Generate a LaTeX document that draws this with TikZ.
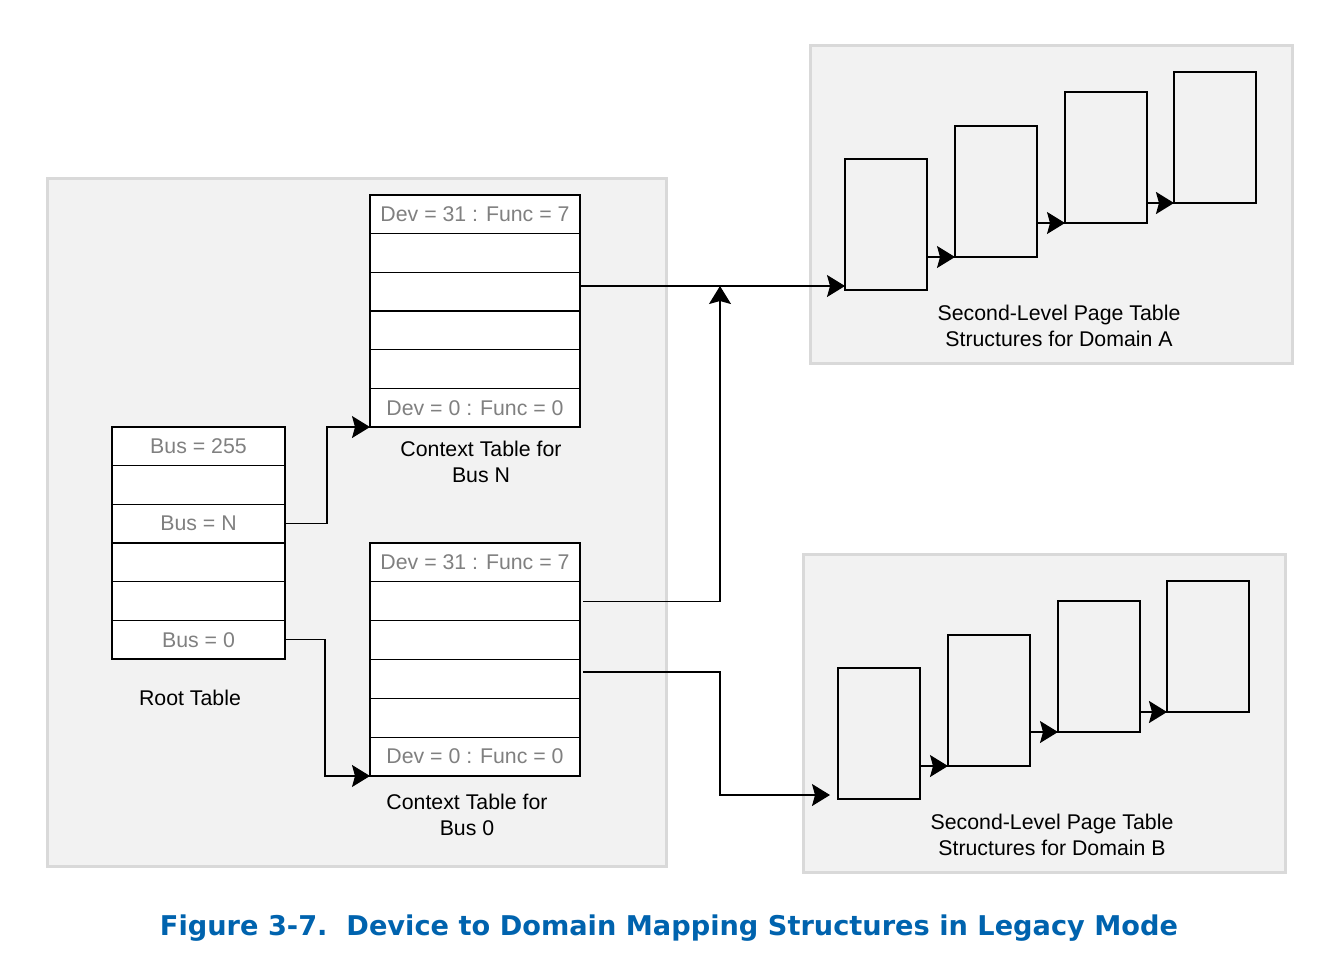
\documentclass[tikz,border=0pt]{standalone}
\usepackage{fontspec}
\setmainfont{Liberation Sans}
\newfontfamily\capfont{DejaVu Sans}
\usetikzlibrary{arrows.meta,positioning}
\definecolor{panelgray}{HTML}{F2F2F2}
\definecolor{panelrule}{HTML}{D9D9D9}
\definecolor{cellgray}{HTML}{808080}
\definecolor{capblue}{RGB}{0,99,174}

\begin{document}
\begin{tikzpicture}[x=1pt, y=-1pt, font=\fontsize{21.3}{26}\selectfont,
    >={Stealth[length=18pt, width=22pt, inset=3pt]},
    panel/.style={draw=panelrule, fill=panelgray, line width=3pt, anchor=north west, inner sep=0pt, outer sep=0pt},
    cell/.style={draw, fill=white, line width=1.1pt, anchor=north west, text=cellgray, inner sep=0pt, outer sep=0pt},
    page/.style={draw, line width=1.1pt, anchor=north west, minimum width=82pt, minimum height=131pt, inner sep=0pt, outer sep=0pt},
    link/.style={->, line width=1.2pt},
    caption/.style={align=center}]
    \useasboundingbox (0,0) rectangle (1330,962);

    % Panels
    \node[panel, minimum width=619pt, minimum height=688pt] (host) at (47,178) {};
    \node[panel, minimum width=482pt, minimum height=318pt] (domA) at (810,45) {};
    \node[panel, minimum width=482pt, minimum height=318pt] (domB) at (803,554) {};

    % Tables
    \foreach \i/\txt in {1/{Bus = 255},2/{},3/{Bus = N},4/{},5/{},6/{Bus = 0}}
        \node[cell, minimum width=173pt, minimum height=38.67pt] (root-\i) at (112,{427+(\i-1)*38.67}) {\txt};
    \foreach \i/\txt in {1/{Dev = 31 : Func = 7},2/{},3/{},4/{},5/{},6/{Dev = 0 : Func = 0}}
        \node[cell, minimum width=210pt, minimum height=38.67pt] (ctxN-\i) at (370,{195+(\i-1)*38.67}) {\txt};
    \foreach \i/\txt in {1/{Dev = 31 : Func = 7},2/{},3/{},4/{},5/{},6/{Dev = 0 : Func = 0}}
        \node[cell, minimum width=210pt, minimum height=38.83pt] (ctx0-\i) at (370,{543+(\i-1)*38.83}) {\txt};

    % Page tables
    \foreach \i/\px/\py in {1/845/159,2/955/126,3/1065/92,4/1174/72} {
        \node[page] (pgA-\i) at (\px,\py) {};
        \node[page] (pgB-\i) at ({\px-7},{\py+509}) {};
    }
    \foreach \d in {A,B}
        \foreach \i/\j/\w in {1/2/1.2,2/3/1.2,3/4/2.4}
            \draw[link, line width=\w pt] (pg\d-\i.east |- pg\d-\j.south west) -- (pg\d-\j.south west);

    % Root table -> context tables
    \draw[link] (root-3.east) -- ++(42,0) |- (ctxN-6.south west);
    \draw[link] (root-6.east) -- ++(40,0) |- (ctx0-6.south west);

    % Context tables -> domains
    \coordinate (aIn) at ([yshift=4pt]pgA-1.south west);
    \path (aIn) ++(-125,0) coordinate (merge);
    \coordinate (bIn) at ([xshift=-8pt, yshift=4pt]pgB-1.south west);
    \draw[link] (ctxN-3.east |- aIn) -- (aIn);
    \draw[link] ([xshift=3pt]ctx0-2.east) -| (merge);
    \draw[link] ([xshift=3pt, yshift=7pt]ctx0-4.east) -| (merge |- bIn) -- (bIn);

    % Labels
    \node[caption] (ctxNlbl) at (481,462) {Context Table for\\Bus N};
    \node (rootlbl) at (190,698) {Root Table};
    \node[caption] (ctx0lbl) at (467,815) {Context Table for\\Bus 0};
    \node[caption] (domAlbl) at (1059,326) {Second-Level Page Table\\Structures for Domain A};
    \node[caption] (domBlbl) at (1052,835) {Second-Level Page Table\\Structures for Domain B};

    \node[text=capblue, font=\capfont\bfseries\fontsize{27.2}{31}\selectfont] (title) at (669,928)
        {Figure 3-7.\ \ Device to Domain Mapping Structures in Legacy Mode};
\end{tikzpicture}
\end{document}
